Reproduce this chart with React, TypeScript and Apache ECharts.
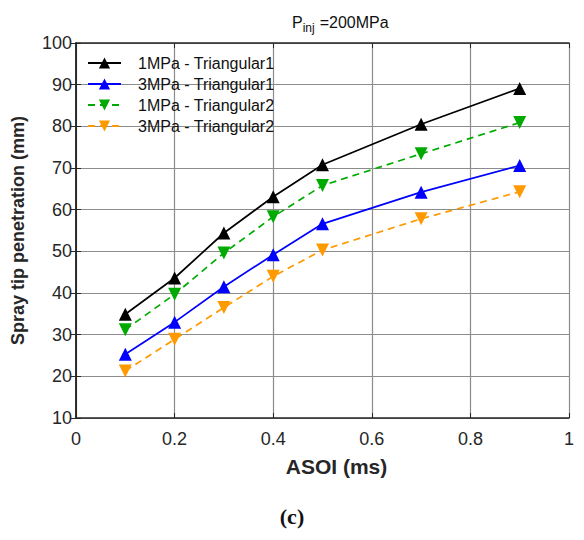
import React, { useEffect, useRef } from "react";
import * as echarts from "echarts";

const asoi = [0.1, 0.2, 0.3, 0.4, 0.5, 0.7, 0.9];
const tri1_1MPa = [34.9, 43.6, 54.4, 63.1, 70.8, 80.5, 89.1];
const tri1_3MPa = [25.3, 33.0, 41.5, 49.2, 56.6, 64.2, 70.6];
const tri2_1MPa = [31.2, 39.7, 49.6, 58.3, 65.8, 73.4, 80.9];
const tri2_3MPa = [21.3, 28.9, 36.5, 44.0, 50.3, 57.8, 64.3];
const seriesNames = [
  "1MPa - Triangular1",
  "3MPa - Triangular1",
  "1MPa - Triangular2",
  "3MPa - Triangular2",
];

const pairs = (ys: number[]) => asoi.map((x, i) => [x, ys[i]]);

export default function App() {
  const ref = useRef<HTMLDivElement>(null);
  useEffect(() => {
    if (!ref.current) return;
    const chart = echarts.init(ref.current, null, { renderer: "svg" });
    const font = "'Liberation Sans', Arial, sans-serif";
    const axisColor = "#262626";
    const mk = (
      name: string,
      data: number[],
      color: string,
      dashed: boolean,
      down: boolean
    ) => ({
      name,
      type: "line",
      data: pairs(data),
      symbol: "triangle",
      symbolSize: 13,
      symbolRotate: down ? 180 : 0,
      itemStyle: { color },
      lineStyle: { color, width: 1.7, type: dashed ? [7, 5] : "solid" },
      z: 5,
    });
    const frameAxis = {
      axisLine: { show: true, lineStyle: { color: axisColor, width: 1.5 } },
      axisTick: { show: true, inside: true, length: 5, lineStyle: { color: axisColor } },
      axisLabel: { show: false },
      splitLine: { show: false },
    };
    chart.setOption({
      animation: false,
      backgroundColor: "#fff",
      title: {
        left: 287,
        top: 7,
        text: "{p|P}{s|inj} {p|=200MPa}",
        textStyle: {
          rich: {
            p: { fontSize: 16, fontWeight: "normal", fontFamily: font, color: "#111", lineHeight: 20 },
            s: { fontSize: 12, fontWeight: "normal", fontFamily: font, color: "#111", padding: [12, 0, 0, 0], lineHeight: 20 },
          },
        },
      },
      legend: {
        orient: "vertical",
        left: 82,
        top: 50,
        itemWidth: 33,
        itemHeight: 14,
        itemGap: 5,
        data: seriesNames,
        textStyle: { fontSize: 16, fontFamily: font, color: "#111", padding: [0, 0, 0, 12] },
      },
      grid: {
        left: 76,
        right: 15,
        top: 43,
        bottom: 122,
      },
      xAxis: [
        {
          type: "value",
          min: 0,
          max: 1,
          interval: 0.2,
          name: "ASOI (ms)",
          nameLocation: "middle",
          nameGap: 38,
          nameTextStyle: {
            fontSize: 21,
            fontWeight: "bold",
            fontFamily: font,
            color: axisColor,
            padding: [0, 0, 0, 28],
          },
          axisLine: { show: true, lineStyle: { color: axisColor, width: 1.5 } },
          axisTick: { show: true, inside: true, length: 5, lineStyle: { color: axisColor } },
          axisLabel: { fontSize: 18, fontFamily: font, color: axisColor, margin: 12 },
          splitLine: { show: true, lineStyle: { color: "#8c8c8c", width: 1.2 } },
        },
        { type: "value", position: "top", min: 0, max: 1, interval: 0.2, ...frameAxis },
      ],
      yAxis: [
        {
          type: "value",
          min: 10,
          max: 100,
          interval: 10,
          name: "Spray tip penetration (mm)",
          nameLocation: "middle",
          nameGap: 49,
          nameTextStyle: { fontSize: 18, fontWeight: "bold", fontFamily: font, color: axisColor },
          axisLine: { show: true, lineStyle: { color: axisColor, width: 1.5 } },
          axisTick: { show: true, inside: true, length: 5, lineStyle: { color: axisColor } },
          axisLabel: { fontSize: 18, fontFamily: font, color: axisColor, margin: 4 },
          splitLine: { show: true, lineStyle: { color: "#8c8c8c", width: 1.2 } },
        },
        { type: "value", position: "right", min: 10, max: 100, interval: 10, ...frameAxis },
      ],
      graphic: [
        {
          type: "text",
          x: 292,
          y: 516,
          style: {
            text: "(c)",
            fontSize: 22,
            fontWeight: "bold",
            fontFamily: "'Liberation Serif', 'DejaVu Serif', serif",
            fill: "#111",
            align: "center",
            verticalAlign: "middle",
          },
        },
      ],
      series: [
        mk(seriesNames[0], tri1_1MPa, "#000000", false, false),
        mk(seriesNames[1], tri1_3MPa, "#0000ff", false, false),
        mk(seriesNames[2], tri2_1MPa, "#00aa00", true, true),
        mk(seriesNames[3], tri2_3MPa, "#ff9900", true, true),
      ],
    });
    return () => chart.dispose();
  }, []);
  return (
    <div
      ref={ref}
      style={{ position: "fixed", left: 0, top: 0, width: 584, height: 540 }}
    />
  );
}
